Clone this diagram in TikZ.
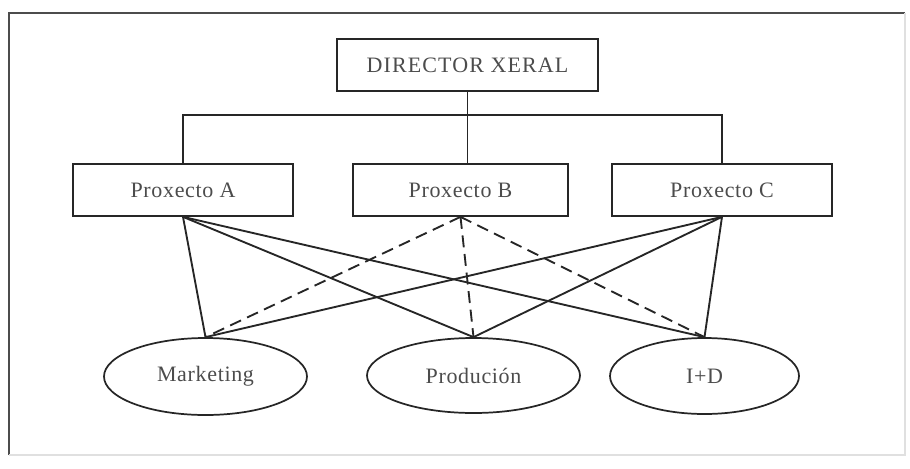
\documentclass[tikz,border=0pt]{standalone}
\usepackage{fontspec}
\setmainfont{Liberation Serif}
\usetikzlibrary{shapes.geometric}
\begin{document}
\begin{tikzpicture}[x=0.75pt,y=-0.75pt,
  box/.style={draw=black!85, line width=1.3pt, minimum height=39pt, inner sep=0pt,
    font=\fontsize{16.5}{19}\selectfont\addfontfeature{LetterSpace=3}, text=black!70},
  oval/.style={ellipse, draw=black!85, line width=1.3pt, inner sep=0pt,
    font=\fontsize{16.5}{19}\selectfont\addfontfeature{LetterSpace=3}, text=black!70},
  link/.style={draw=black!85, line width=1.4pt},
  dlink/.style={link, dash pattern=on 9pt off 5pt}]
\useasboundingbox (0,0) rectangle (910,468);
\draw[line width=1.4pt, black!70] (9,455) -- (9,13) -- (905,13);
\draw[line width=1pt, black!12] (905,13) -- (905,455) -- (9,455);

\node[box, minimum width=195.75pt, font=\fontsize{16.5}{19}\selectfont\addfontfeature{LetterSpace=5}] (dir) at (467.5,65) {DIRECTOR XERAL};
\node[box, minimum width=165pt] (pa) at (183,190) {Proxecto A};
\node[box, minimum width=161.25pt] (pb) at (460.5,190) {Proxecto B};
\node[box, minimum width=165pt] (pc) at (722,190) {Proxecto C};

\node[oval, minimum width=152.25pt, minimum height=57.75pt] (mk) at (205.5,376.5) {Marketing};
\node[oval, minimum width=159.75pt, minimum height=56.25pt] (pr) at (473.5,375.5) {Produción};
\node[oval, minimum width=141.75pt, minimum height=57pt] (id) at (704.5,376) {I+D};

\coordinate (hub) at (467.5,115);
\draw[link] (dir.south) -- (dir.south |- pb.north);
\draw[link] (pa.north) |- (hub) -| (pc.north);

\draw[link] (pa.south) -- (mk.north);
\draw[link] (pa.south) -- (pr.north);
\draw[link] (pa.south) -- (id.north);
\draw[dlink] (pb.south) -- (mk.north);
\draw[dlink] (pb.south) -- (pr.north);
\draw[dlink] (pb.south) -- (id.north);
\draw[link] (pc.south) -- (mk.north);
\draw[link] (pc.south) -- (pr.north);
\draw[link] (pc.south) -- (id.north);
\end{tikzpicture}
\end{document}
